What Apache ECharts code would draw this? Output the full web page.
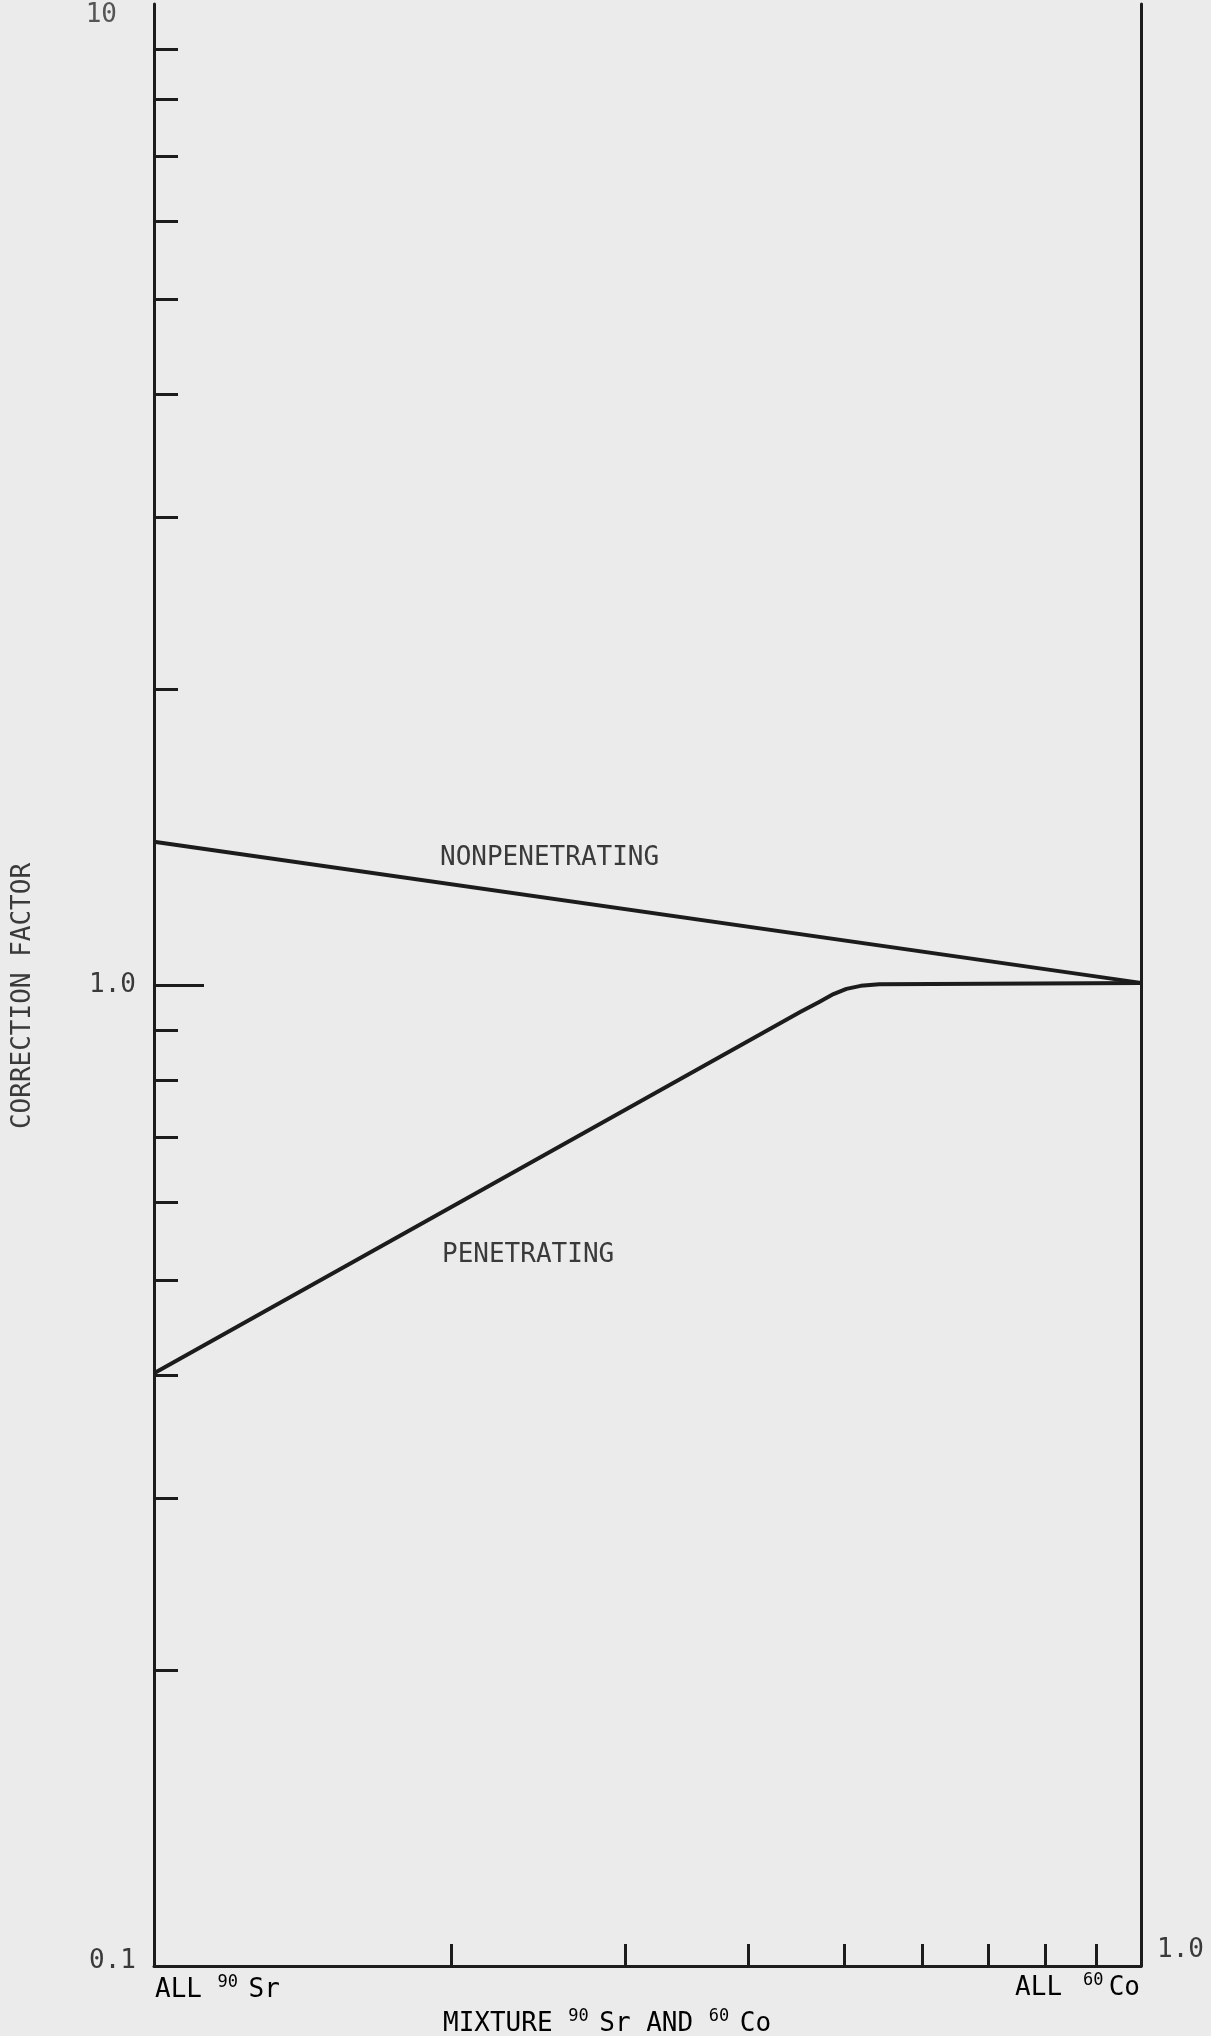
<!DOCTYPE html>
<html>
<head>
<meta charset="utf-8">
<script src="https://cdn.jsdelivr.net/npm/echarts@6/dist/echarts.min.js"></script>
<style>
  html, body { margin: 0; padding: 0; background: #ebebeb; }
  #chart { width: 1211px; height: 2036px; }
</style>
</head>
<body>
<div id="chart"></div>
<script>
// values (x = fraction of 60Co on a log scale, y = correction factor)
const nonpenX = [0.1, 1.0];
const nonpenY = [1.40, 1.005];
const penX = [0.1, 0.452, 0.472, 0.488, 0.503, 0.520, 0.543, 1.0];
const penY = [0.402, 0.939, 0.961, 0.979, 0.991, 0.998, 1.002, 1.005];

const yMinorTicks = [0.2, 0.3, 0.4, 0.5, 0.6, 0.7, 0.8, 0.9, 2, 3, 4, 5, 6, 7, 8, 9];
const yMajorTicks = [1];
const yLabelValues = [0.1, 1, 10];
const xMinorTicks = [0.2, 0.3, 0.4, 0.5, 0.6, 0.7, 0.8, 0.9];

const INK = '#1c1c1c';
const TEXT = '#3a3a3a';
const MONO = '"DejaVu Sans Mono", monospace';

const chart = echarts.init(document.getElementById('chart'));

const pairs = (xs, ys) => xs.map((x, i) => [x, ys[i]]);

const baseY = {
  type: 'log',
  logBase: 10,
  min: 0.1,
  max: 10,
  splitLine: { show: false }
};

const supRich = {
  a: { fontFamily: MONO, fontSize: 26, color: TEXT, lineHeight: 32 },
  s: { fontFamily: MONO, fontSize: 17, color: TEXT, lineHeight: 18, verticalAlign: 'top', width: 31, align: 'left' }
};

const yLabel = v => {
  if (v >= 9) return '{top|10}';
  if (v >= 0.9) return '1.0';
  return '{bot|0.1}';
};

chart.setOption({
  backgroundColor: '#ebebeb',
  animation: false,
  grid: { left: 154, right: 70, top: 4, bottom: 70 },
  xAxis: {
    type: 'log',
    logBase: 10,
    min: 0.1,
    max: 1,
    splitLine: { show: false },
    axisLine: { show: true, lineStyle: { color: INK, width: 3 } },
    axisTick: { show: true, inside: true, length: 22, customValues: xMinorTicks, lineStyle: { color: INK, width: 3 } },
    axisLabel: { show: false }
  },
  yAxis: [
    {
      ...baseY,
      position: 'left',
      axisLine: { show: true, lineStyle: { color: INK, width: 3 } },
      axisTick: { show: true, inside: true, length: 24, customValues: yMinorTicks, lineStyle: { color: INK, width: 3 } },
      axisLabel: { show: false }
    },
    {
      ...baseY,
      position: 'left',
      axisLine: { show: false },
      axisTick: { show: true, inside: true, length: 50, customValues: yMajorTicks, lineStyle: { color: INK, width: 3 } },
      axisLabel: {
        show: true,
        customValues: yLabelValues,
        margin: 18,
        formatter: yLabel,
        fontFamily: MONO,
        fontSize: 26,
        color: TEXT,
        rich: {
          top: { fontFamily: MONO, fontSize: 26, color: '#555', padding: [22, 19, 0, 0] },
          bot: { fontFamily: MONO, fontSize: 26, color: TEXT, padding: [0, 0, 10, 0] }
        }
      }
    },
    {
      ...baseY,
      position: 'right',
      axisLine: { show: true, lineStyle: { color: INK, width: 3 } },
      axisTick: { show: false },
      axisLabel: { show: false }
    }
  ],
  series: [
    {
      name: 'NONPENETRATING',
      type: 'line',
      yAxisIndex: 0,
      data: pairs(nonpenX, nonpenY),
      showSymbol: false,
      lineStyle: { color: INK, width: 4 }
    },
    {
      name: 'PENETRATING',
      type: 'line',
      yAxisIndex: 0,
      data: pairs(penX, penY),
      showSymbol: false,
      lineStyle: { color: INK, width: 4, join: 'round' }
    }
  ],
  graphic: [
    {
      type: 'text', x: 23, y: 996, rotation: Math.PI / 2,
      style: { text: 'CORRECTION FACTOR', fontFamily: MONO, fontSize: 26, fill: TEXT, align: 'center', verticalAlign: 'middle' }
    },
    {
      type: 'text', x: 440, y: 858,
      style: { text: 'NONPENETRATING', fontFamily: MONO, fontSize: 26, fill: TEXT, align: 'left', verticalAlign: 'middle' }
    },
    {
      type: 'text', x: 442, y: 1255,
      style: { text: 'PENETRATING', fontFamily: MONO, fontSize: 26, fill: TEXT, align: 'left', verticalAlign: 'middle' }
    },
    {
      type: 'text', x: 155, y: 1990,
      style: { text: '{a|ALL }{s|90}{a|Sr}', rich: supRich, align: 'left', verticalAlign: 'middle' }
    },
    {
      type: 'text', x: 1140, y: 1988,
      style: { text: '{a|ALL }{s|60}{a|Co}', rich: supRich, align: 'right', verticalAlign: 'middle' }
    },
    {
      type: 'text', x: 443, y: 2024,
      style: { text: '{a|MIXTURE }{s|90}{a|Sr AND }{s|60}{a|Co}', rich: supRich, align: 'left', verticalAlign: 'middle' }
    },
    {
      type: 'text', x: 1157, y: 1950,
      style: { text: '1.0', fontFamily: MONO, fontSize: 26, fill: TEXT, align: 'left', verticalAlign: 'middle' }
    }
  ]
});
</script>
</body>
</html>
